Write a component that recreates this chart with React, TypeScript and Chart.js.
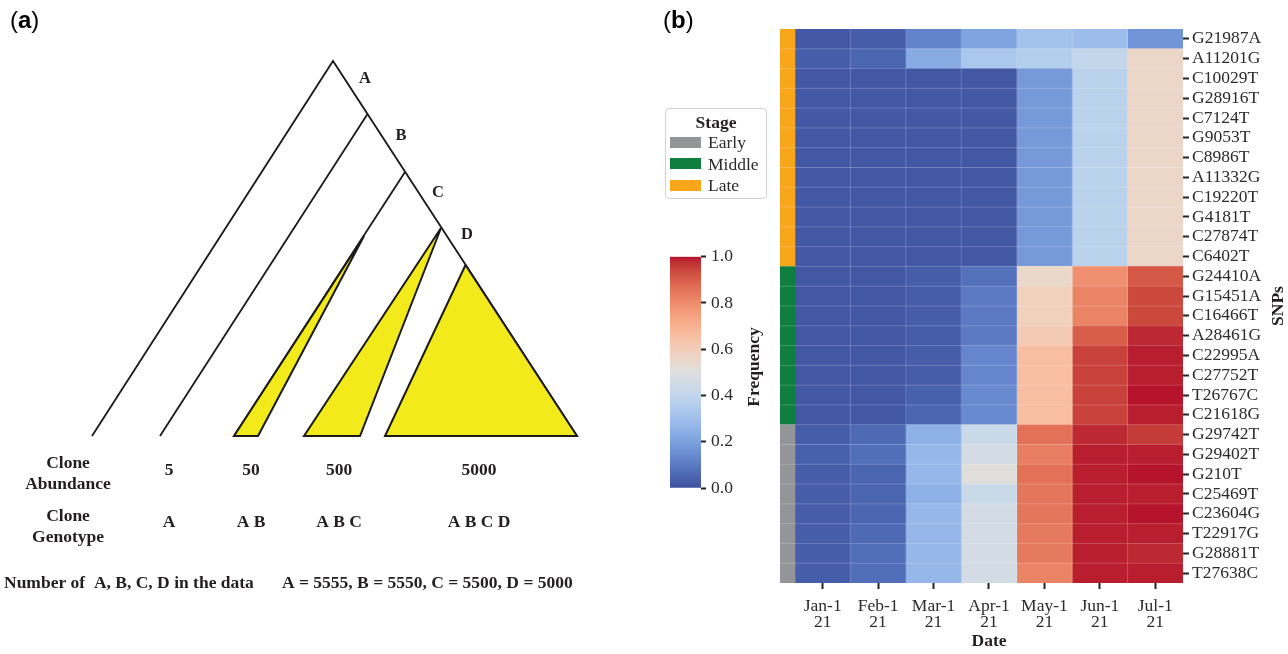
import React, { useEffect, useRef } from "react";
import { Chart, registerables } from "chart.js";

Chart.register(...registerables);

const SERIF = '"Liberation Serif", "Times New Roman", serif';
const SANS = '"Liberation Sans", Arial, sans-serif';
const INK = "#231f20";

// ---------------- panel (a): clonal tree (data units = diagram units) ----------------
const outerEdges = [
  { x: 92, y: 436 },
  { x: 333, y: 61 },
  { x: 577, y: 436 },
];
const branchB = [
  { x: 367.5, y: 114 },
  { x: 160, y: 436 },
];
const branchC = [
  { x: 405, y: 172 },
  { x: 234, y: 436 },
];
const cloneAB = [
  { x: 364, y: 236 },
  { x: 234, y: 436 },
  { x: 258, y: 436 },
  { x: 364, y: 236 },
];
const cloneABC = [
  { x: 441, y: 228 },
  { x: 304, y: 436 },
  { x: 360, y: 436 },
  { x: 441, y: 228 },
];
const cloneABCD = [
  { x: 465.5, y: 265 },
  { x: 385, y: 436 },
  { x: 577, y: 436 },
  { x: 465.5, y: 265 },
];
const mutationNames = ["A", "B", "C", "D"];
const mutationLabelX = [365, 401, 438, 467];
const mutationLabelY = [79, 136, 193, 235];
const cloneAbundance = ["5", "50", "500", "5000"];
const cloneGenotype = ["A", "A B", "A B C", "A B C D"];
const cloneColumnX = [169, 251, 339, 479];
const mutationCountText = "A = 5555, B = 5550, C = 5500, D = 5000";

// ---------------- panel (b): heatmap ----------------
const snpLabels = [
  "G21987A", "A11201G", "C10029T", "G28916T", "C7124T", "G9053T", "C8986T",
  "A11332G", "C19220T", "G4181T", "C27874T", "C6402T",
  "G24410A", "G15451A", "C16466T", "A28461G", "C22995A", "C27752T", "T26767C", "C21618G",
  "G29742T", "G29402T", "G210T", "C25469T", "C23604G", "T22917G", "G28881T", "T27638C",
];
const snpStage = [
  "Late", "Late", "Late", "Late", "Late", "Late", "Late", "Late", "Late", "Late", "Late", "Late",
  "Middle", "Middle", "Middle", "Middle", "Middle", "Middle", "Middle", "Middle",
  "Early", "Early", "Early", "Early", "Early", "Early", "Early", "Early",
];
const stageNames = ["Early", "Middle", "Late"];
const stageColors = ["#949599", "#0f7f40", "#f9a61b"];
const dateLabels = [
  ["Jan-1", "21"], ["Feb-1", "21"], ["Mar-1", "21"], ["Apr-1", "21"],
  ["May-1", "21"], ["Jun-1", "21"], ["Jul-1", "21"],
];
const freqJan = [
  0.02, 0.03, 0.02, 0.02, 0.02, 0.02, 0.02, 0.02, 0.02, 0.02, 0.02, 0.02,
  0.02, 0.02, 0.02, 0.02, 0.02, 0.02, 0.02, 0.02,
  0.03, 0.04, 0.03, 0.03, 0.03, 0.03, 0.03, 0.03,
];
const freqFeb = [
  0.03, 0.05, 0.02, 0.02, 0.02, 0.02, 0.02, 0.02, 0.02, 0.02, 0.02, 0.02,
  0.02, 0.02, 0.02, 0.02, 0.02, 0.02, 0.02, 0.02,
  0.06, 0.07, 0.05, 0.05, 0.05, 0.06, 0.07, 0.07,
];
const freqMar = [
  0.12, 0.23, 0.02, 0.02, 0.02, 0.02, 0.02, 0.02, 0.02, 0.02, 0.02, 0.02,
  0.03, 0.03, 0.03, 0.03, 0.03, 0.03, 0.04, 0.05,
  0.25, 0.27, 0.27, 0.25, 0.27, 0.27, 0.27, 0.27,
];
const freqApr = [
  0.21, 0.33, 0.02, 0.02, 0.02, 0.02, 0.02, 0.02, 0.02, 0.02, 0.02, 0.02,
  0.08, 0.1, 0.1, 0.1, 0.13, 0.13, 0.14, 0.14,
  0.43, 0.46, 0.51, 0.43, 0.46, 0.46, 0.46, 0.46,
];
const freqMay = [
  0.31, 0.36, 0.18, 0.18, 0.18, 0.18, 0.18, 0.18, 0.18, 0.18, 0.18, 0.18,
  0.55, 0.59, 0.59, 0.61, 0.66, 0.66, 0.66, 0.66,
  0.86, 0.83, 0.86, 0.85, 0.85, 0.84, 0.84, 0.82,
];
const freqJun = [
  0.29, 0.41, 0.38, 0.38, 0.38, 0.38, 0.38, 0.38, 0.38, 0.38, 0.38, 0.38,
  0.79, 0.82, 0.82, 0.9, 0.95, 0.95, 0.95, 0.95,
  0.98, 0.99, 0.99, 0.99, 0.99, 0.99, 0.99, 0.99,
];
const freqJul = [
  0.17, 0.56, 0.56, 0.56, 0.56, 0.56, 0.56, 0.56, 0.56, 0.56, 0.56, 0.56,
  0.91, 0.94, 0.94, 0.98, 0.99, 0.99, 1.0, 0.99,
  0.96, 0.99, 1.0, 0.99, 1.0, 0.99, 0.98, 0.99,
];
const freqByDate = [freqJan, freqFeb, freqMar, freqApr, freqMay, freqJun, freqJul];
const colorbarTicks = [0, 0.2, 0.4, 0.6, 0.8, 1.0];

// ---------------- colour map (coolwarm) ----------------
const COOLWARM = [
  [59, 76, 192], [68, 90, 204], [77, 104, 215], [87, 117, 225], [98, 130, 234],
  [108, 142, 241], [119, 154, 247], [130, 165, 251], [141, 176, 254], [152, 185, 255],
  [163, 194, 255], [174, 201, 253], [184, 208, 249], [194, 213, 244], [204, 217, 238],
  [213, 219, 230], [221, 221, 221], [229, 216, 209], [236, 211, 197], [241, 204, 185],
  [245, 196, 173], [247, 187, 160], [247, 177, 148], [247, 166, 135], [244, 154, 123],
  [241, 141, 111], [236, 127, 99], [229, 112, 88], [222, 96, 77], [213, 80, 66],
  [203, 62, 56], [192, 40, 47], [180, 4, 38],
];

function adjust(c: number[]): number[] {
  const [r, g, b] = c;
  if (b > r) {
    return [r + (255 - r) * 0.01, g + (255 - g) * 0.02, b - 0.3 * (b - g)];
  }
  return [r + (255 - r) * 0.02, g + (255 - g) * 0.06, b + (255 - b) * 0.03];
}

function coolwarm(v: number): string {
  const t = Math.max(0, Math.min(1, v)) * (COOLWARM.length - 1);
  const i = Math.min(Math.floor(t), COOLWARM.length - 2);
  const f = t - i;
  const a = COOLWARM[i];
  const b = COOLWARM[i + 1];
  const c = adjust([0, 1, 2].map((k) => a[k] + (b[k] - a[k]) * f));
  return `rgb(${c.map((x) => Math.round(x)).join(",")})`;
}

const STAGE_WIDTH = 0.27;

// ---------------- plugins ----------------
const treeTextPlugin = {
  id: "treeText",
  afterDraw(chart: any) {
    const { ctx, scales } = chart;
    const px = (v: number) => scales.x.getPixelForValue(v);
    const py = (v: number) => scales.y.getPixelForValue(v);
    ctx.save();
    ctx.fillStyle = INK;
    ctx.textBaseline = "middle";
    ctx.textAlign = "center";
    ctx.font = `bold 16.5px ${SERIF}`;
    mutationNames.forEach((n, i) => ctx.fillText(n, px(mutationLabelX[i]), py(mutationLabelY[i])));
    ctx.font = `bold 17.5px ${SERIF}`;
    ctx.fillText("Clone", px(68), py(463));
    ctx.fillText("Abundance", px(68), py(484));
    ctx.fillText("Clone", px(68), py(516));
    ctx.fillText("Genotype", px(68), py(537));
    cloneAbundance.forEach((t, i) => ctx.fillText(t, px(cloneColumnX[i]), py(470)));
    cloneGenotype.forEach((t, i) => ctx.fillText(t, px(cloneColumnX[i]), py(522)));
    ctx.textAlign = "left";
    ctx.fillText("Number of  A, B, C, D in the data", px(4), py(583));
    ctx.fillText(mutationCountText, px(282), py(583));
    ctx.restore();
  },
};

const heatmapExtras = {
  id: "heatmapExtras",
  afterDatasetsDraw(chart: any) {
    const { ctx, chartArea: a, scales } = chart;
    const { x, y } = scales;
    ctx.save();
    ctx.strokeStyle = "rgba(255,255,255,0.2)";
    ctx.lineWidth = 1;
    for (let i = 1; i < snpLabels.length; i++) {
      const yy = (y.getPixelForValue(i - 1) + y.getPixelForValue(i)) / 2;
      ctx.beginPath();
      ctx.moveTo(a.left, yy);
      ctx.lineTo(a.right, yy);
      ctx.stroke();
    }
    for (let i = 1; i < dateLabels.length; i++) {
      const xx = x.getPixelForValue(i);
      ctx.beginPath();
      ctx.moveTo(xx, a.top);
      ctx.lineTo(xx, a.bottom);
      ctx.stroke();
    }
    ctx.restore();
  },
  afterDraw(chart: any) {
    const { ctx, chartArea: a, scales } = chart;
    ctx.save();
    ctx.fillStyle = INK;
    ctx.font = `bold 17.5px ${SERIF}`;
    ctx.textAlign = "center";
    ctx.textBaseline = "middle";
    ctx.fillText("Date", scales.x.getPixelForValue(3.5), 641);
    ctx.translate(a.right + 95, (a.top + a.bottom) / 2);
    ctx.rotate(-Math.PI / 2);
    ctx.fillText("SNPs", 0, 0);
    ctx.restore();
  },
};

const colorbarExtras = {
  id: "colorbarExtras",
  afterDraw(chart: any) {
    const { ctx, chartArea: a } = chart;
    ctx.save();
    ctx.fillStyle = INK;
    ctx.font = `bold 17.5px ${SERIF}`;
    ctx.textAlign = "center";
    ctx.textBaseline = "middle";
    ctx.translate(a.right + 53, 127);
    ctx.rotate(-Math.PI / 2);
    ctx.fillText("Frequency", 0, 0);
    ctx.restore();
  },
};

const tickFont = { family: SERIF, size: 17.5 };

export default function App() {
  const treeRef = useRef<HTMLCanvasElement>(null);
  const heatRef = useRef<HTMLCanvasElement>(null);
  const cbarRef = useRef<HTMLCanvasElement>(null);

  useEffect(() => {
    const charts: Chart[] = [];
    const edge = (data: any[], extra: any = {}) => ({
      data,
      showLine: true,
      borderColor: "#1a1a1a",
      borderWidth: 1.8,
      pointRadius: 0,
      tension: 0,
      fill: false,
      ...extra,
    });
    const yellow = { fill: "shape", backgroundColor: "#f2ea1a", borderWidth: 2 };

    charts.push(
      new Chart(treeRef.current!, {
        type: "scatter",
        data: {
          datasets: [
            edge(cloneAB, yellow),
            edge(cloneABC, yellow),
            edge(cloneABCD, yellow),
            edge(outerEdges),
            edge(branchB),
            edge(branchC),
          ] as any,
        },
        options: {
          responsive: false,
          animation: false,
          events: [],
          layout: { padding: 0 },
          plugins: { legend: { display: false }, tooltip: { enabled: false } },
          scales: {
            x: { type: "linear", min: 0, max: 640, display: false },
            y: { type: "linear", min: 0, max: 654, reverse: true, display: false },
          },
        } as any,
        plugins: [treeTextPlugin],
      })
    );

    const datasets: any[] = [
      {
        label: "Stage",
        data: snpLabels.map(() => [-STAGE_WIDTH, 0]),
        backgroundColor: snpStage.map((s) => stageColors[stageNames.indexOf(s)]),
        barPercentage: 1,
        categoryPercentage: 1,
        borderWidth: 0,
      },
      ...freqByDate.map((vals, i) => ({
        label: dateLabels[i].join(" "),
        data: vals.map(() => [i, i + 1]),
        backgroundColor: vals.map(coolwarm),
        barPercentage: 1,
        categoryPercentage: 1,
        borderWidth: 0,
      })),
    ];

    charts.push(
      new Chart(heatRef.current!, {
        type: "bar",
        data: { labels: snpLabels, datasets },
        options: {
          indexAxis: "y",
          responsive: false,
          animation: false,
          events: [],
          layout: { padding: { left: 140, top: 29, right: 0, bottom: 0 } },
          plugins: { legend: { display: false }, tooltip: { enabled: false } },
          scales: {
            x: {
              type: "linear",
              min: -STAGE_WIDTH,
              max: dateLabels.length,
              bounds: "data",
              stacked: false,
              afterBuildTicks: (s: any) => {
                s.ticks = dateLabels.map((_, i) => ({ value: i + 0.5 }));
              },
              afterFit: (s: any) => {
                s.height = 71;
              },
              grid: {
                display: true,
                drawOnChartArea: false,
                drawTicks: true,
                tickLength: 6,
                tickWidth: 2,
                tickColor: "#222",
              },
              border: { display: false },
              ticks: {
                autoSkip: false,
                maxRotation: 0,
                minRotation: 0,
                padding: 9.5,
                color: "#2b2b2b",
                font: { ...tickFont, lineHeight: 0.92 },
                callback: (_v: any, i: number) => dateLabels[i],
              },
            },
            y: {
              type: "category",
              position: "right",
              stacked: true,
              offset: true,
              afterFit: (s: any) => {
                s.width = 105;
              },
              grid: {
                display: true,
                offset: false,
                drawOnChartArea: false,
                drawTicks: true,
                tickLength: 6,
                tickWidth: 2,
                tickColor: "#222",
              },
              border: { display: false },
              ticks: { autoSkip: false, padding: 3, color: "#2b2b2b", font: tickFont },
            },
          },
        } as any,
        plugins: [heatmapExtras],
      })
    );

    charts.push(
      new Chart(cbarRef.current!, {
        type: "bar",
        data: {
          labels: ["Frequency"],
          datasets: [
            {
              data: [[0, 1]] as any,
              barPercentage: 1,
              categoryPercentage: 1,
              borderWidth: 0,
              backgroundColor: (c: any) => {
                const { chart } = c;
                const a = chart.chartArea;
                if (!a) return coolwarm(0.5);
                const g = chart.ctx.createLinearGradient(0, a.bottom, 0, a.top);
                const n = 64;
                for (let k = 0; k <= n; k++) g.addColorStop(k / n, coolwarm(k / n));
                return g;
              },
            },
          ],
        },
        options: {
          responsive: false,
          animation: false,
          events: [],
          layout: { padding: { left: 10, top: 16.7, right: 0, bottom: 22 } },
          plugins: { legend: { display: false }, tooltip: { enabled: false } },
          scales: {
            x: { display: false },
            y: {
              type: "linear",
              position: "right",
              min: 0,
              max: 1,
              bounds: "data",
              afterBuildTicks: (s: any) => {
                s.ticks = colorbarTicks.map((v) => ({ value: v }));
              },
              afterFit: (s: any) => {
                s.width = 89;
              },
              grid: {
                display: true,
                drawOnChartArea: false,
                drawTicks: true,
                tickLength: 5,
                tickWidth: 2,
                tickColor: "#222",
              },
              border: { display: false },
              ticks: {
                padding: 5,
                color: "#2b2b2b",
                font: tickFont,
                callback: (v: any) => Number(v).toFixed(1),
              },
            },
          },
        } as any,
        plugins: [colorbarExtras],
      })
    );

    return () => charts.forEach((c) => c.destroy());
  }, []);

  const legendRowTop = [27.7, 49.2, 70.7];

  return (
    <div
      style={{
        position: "fixed",
        left: 0,
        top: 0,
        width: 1288,
        height: 654,
        background: "#fff",
        overflow: "hidden",
      }}
    >
      <canvas ref={treeRef} width={640} height={654} style={{ position: "absolute", left: 0, top: 0 }} />
      <canvas ref={heatRef} width={648} height={654} style={{ position: "absolute", left: 640, top: 0 }} />
      <canvas ref={cbarRef} width={130} height={270} style={{ position: "absolute", left: 660, top: 240 }} />

      <div
        style={{
          position: "absolute",
          left: 10,
          top: 7,
          fontFamily: SANS,
          fontSize: 24,
          lineHeight: "25px",
          color: "#000",
          whiteSpace: "pre",
        }}
      >
        (<b>a</b>)
      </div>
      <div
        style={{
          position: "absolute",
          left: 663,
          top: 7,
          fontFamily: SANS,
          fontSize: 24,
          lineHeight: "25px",
          color: "#000",
          whiteSpace: "pre",
        }}
      >
        (<b>b</b>)
      </div>

      <div
        style={{
          position: "absolute",
          left: 665,
          top: 108,
          width: 102,
          height: 91,
          boxSizing: "border-box",
          border: "1px solid #d0d0d0",
          borderRadius: 4,
          background: "#fff",
          fontFamily: SERIF,
          fontSize: 17.5,
          color: "#2b2b2b",
        }}
      >
        <div
          style={{
            position: "absolute",
            left: 0,
            width: "100%",
            top: 2.7,
            height: 20,
            lineHeight: "20px",
            textAlign: "center",
            fontWeight: "bold",
            color: INK,
          }}
        >
          Stage
        </div>
        {stageNames.map((name, i) => (
          <React.Fragment key={name}>
            <div
              style={{
                position: "absolute",
                left: 4,
                top: legendRowTop[i],
                width: 31,
                height: 11,
                background: stageColors[i],
              }}
            />
            <div
              style={{
                position: "absolute",
                left: 42,
                top: legendRowTop[i] - 4.5,
                height: 20,
                lineHeight: "20px",
                whiteSpace: "nowrap",
              }}
            >
              {name}
            </div>
          </React.Fragment>
        ))}
      </div>
    </div>
  );
}
